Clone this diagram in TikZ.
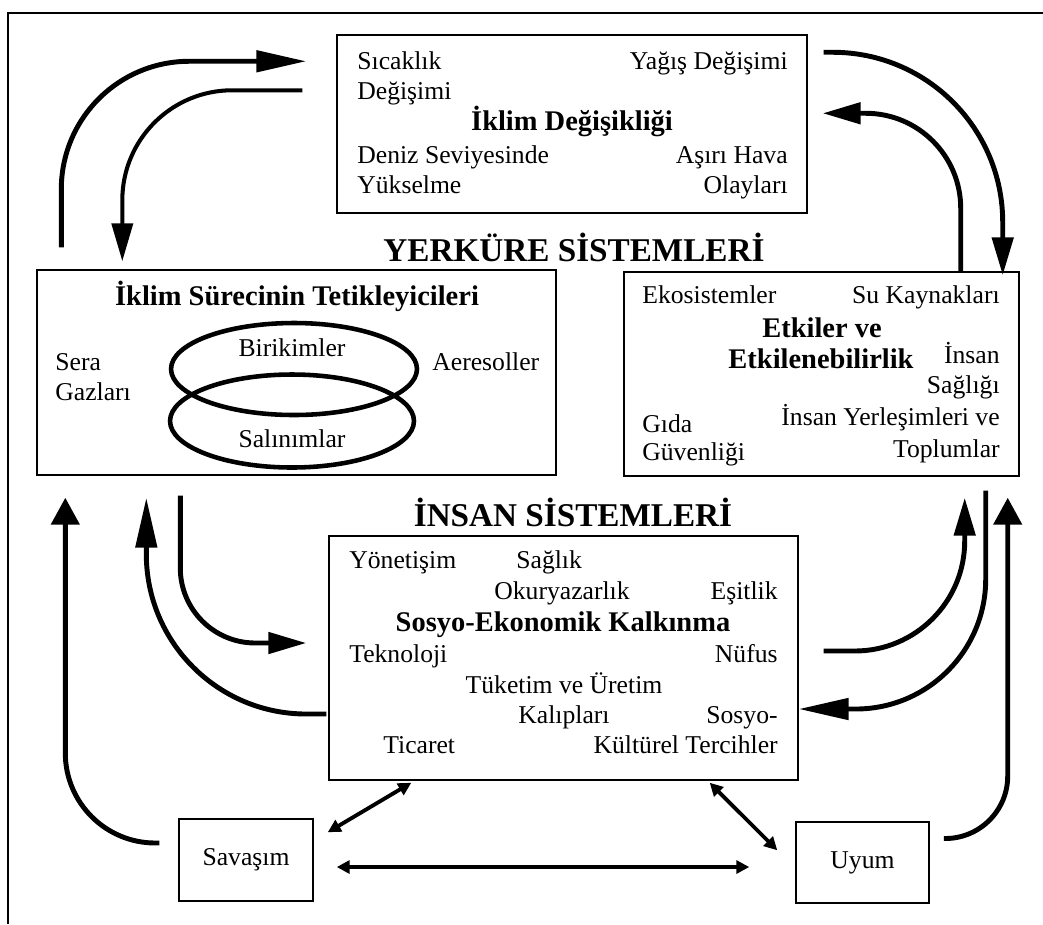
\documentclass[tikz,border=0pt]{standalone}
\usepackage{fontspec}
\setmainfont{Liberation Serif}
\usetikzlibrary{arrows.meta,calc}
\definecolor{ink}{HTML}{000000}
\tikzset{
  every node/.style={font=\fontsize{14.6}{17.5}\selectfont, text=ink, inner sep=0pt},
  panel/.style={draw=ink, line width=0.85pt},
  heading/.style={font=\fontsize{16.2}{19}\selectfont\bfseries, anchor=base},
  systitle/.style={font=\fontsize{18.9}{22}\selectfont\bfseries, anchor=base},
  item/.style={anchor=base west},
  itemr/.style={anchor=base east},
  itemc/.style={anchor=base},
  ring/.style={draw=ink, line width=2.6pt},
  flow/.style={draw=ink, line width=2.8pt},
  longarrow/.style={flow, -{Triangle[length=1.0cm,width=0.42cm]}},
  midarrow/.style={flow, -{Triangle[length=0.76cm,width=0.42cm]}},
  stubarrow/.style={flow, -{Triangle[length=0.54cm,width=0.56cm]}},
  twoway/.style={draw=ink, line width=2.2pt, {Triangle[length=0.26cm,width=0.26cm]}-{Triangle[length=0.26cm,width=0.26cm]}},
}

\begin{document}
\begin{tikzpicture}[x=0.02cm, y=-0.02cm]
\useasboundingbox (0,0) rectangle (1043,924);
\draw[ink, line width=1.1pt] (8,924) -- (8,13) -- (1043,13);

% kutular
\node[panel, minimum width=9.4cm, minimum height=3.56cm] (klima) at (572,124) {};
\node[panel, minimum width=10.38cm, minimum height=4.1cm] (tetik) at (296.5,372.5) {};
\node[panel, minimum width=7.9cm, minimum height=4.08cm] (etki) at (821.5,374) {};
\node[panel, minimum width=9.38cm, minimum height=4.88cm] (sosyo) at (563.5,658) {};
\node[panel, minimum width=2.68cm, minimum height=1.64cm] (savas) at (246,860) {Savaşım};
\node[panel, minimum width=2.66cm, minimum height=1.62cm] (uyum) at (862.5,862.5) {Uyum};

\node[systitle] (yerkure) at (574,261) {YERKÜRE SİSTEMLERİ};
\node[systitle] (insan) at (573,526) {İNSAN SİSTEMLERİ};

% iklim degisikligi
\node[item] (sicak) at (357,69) {Sıcaklık};
\node[item] (sicak2) at (357,99) {Değişimi};
\node[itemr] (yagis) at (788,69) {Yağış Değişimi};
\node[heading] (klimabaslik) at (572,130) {İklim Değişikliği};
\node[item] (deniz) at (357,163) {Deniz Seviyesinde};
\node[item] (deniz2) at (357,193) {Yükselme};
\node[itemr] (asiri) at (788,163) {Aşırı Hava};
\node[itemr] (asiri2) at (788,193) {Olayları};

% tetikleyiciler
\node[heading] (tetikbaslik) at (297,305) {İklim Sürecinin Tetikleyicileri};
\node[item] (sera) at (55,370) {Sera};
\node[item] (sera2) at (55,400) {Gazları};
\node[item] (aero) at (432,370) {Aeresoller};
\draw[ring] (294,369) ellipse [x radius=2.46cm, y radius=0.92cm];
\draw[ring] (292,421) ellipse [x radius=2.44cm, y radius=0.93cm];
\node[itemc] (birikim) at (292,356) {Birikimler};
\node[itemc] (salinim) at (292,447) {Salınımlar};

% etkiler
\node[item] (eko) at (642,303) {Ekosistemler};
\node[itemr] (su) at (1000,303) {Su Kaynakları};
\node[heading] (etkibaslik) at (822,337) {Etkiler ve};
\node[heading] (etkibaslik2) at (821,368) {Etkilenebilirlik};
\node[itemr] (saglik) at (1000,363) {İnsan};
\node[itemr] (saglik2) at (1000,393) {Sağlığı};
\node[itemr] (yerlesim) at (1000,425) {İnsan Yerleşimleri ve};
\node[itemr] (yerlesim2) at (1000,457) {Toplumlar};
\node[item] (gida) at (642,432) {Gıda};
\node[item] (gida2) at (642,460) {Güvenliği};

% sosyo-ekonomik
\node[item] (yonetisim) at (349,568) {Yönetişim};
\node[item] (saglik3) at (516,568) {Sağlık};
\node[item] (okur) at (494,599) {Okuryazarlık};
\node[itemr] (esitlik) at (778,599) {Eşitlik};
\node[heading] (sosyobaslik) at (563,631) {Sosyo-Ekonomik Kalkınma};
\node[item] (tekno) at (349,662) {Teknoloji};
\node[itemr] (nufus) at (778,662) {Nüfus};
\node[itemc] (tuketim) at (564,693) {Tüketim ve Üretim};
\node[itemc] (tuketim2) at (564,723) {Kalıpları};
\node[itemr] (kultur) at (778,723) {Sosyo-};
\node[item] (ticaret) at (383,753) {Ticaret};
\node[itemr] (kultur2) at (778,753) {Kültürel Tercihler};

% ok uclari
\coordinate (a1s) at ($(tetik.north west)+(25,-22)$);
\coordinate (a1e) at ($(klima.north west)+(-30,27)$);
\coordinate (a2s) at ($(klima.north west)+(-34,56)$);
\coordinate (a2e) at ($(tetik.north west)+(86,-8)$);
\coordinate (a3s) at ($(klima.north east)+(16,18)$);
\coordinate (a3e) at ($(etki.north east)+(-17,4)$);
\coordinate (a4s) at ($(etki.north east)+(-59,0)$);
\coordinate (a4e) at ($(klima.north east)+(15,79)$);
\coordinate (a5s) at ($(savas.west)+(-19,-17)$);
\coordinate (a5e) at ($(tetik.south west)+(29,22)$);
\coordinate (a6s) at ($(sosyo.west)+(-2,56)$);
\coordinate (a6e) at ($(tetik.south west)+(110,22)$);
\coordinate (a7s) at ($(tetik.south west)+(144,20)$);
\coordinate (a7e) at ($(sosyo.west)+(-22,-15)$);
\coordinate (a8s) at ($(sosyo.east)+(25,-7)$);
\coordinate (a8e) at ($(etki.south east)+(-55,21)$);
\coordinate (a9s) at ($(etki.south east)+(-34,14)$);
\coordinate (a9e) at ($(sosyo.east)+(0,51)$);
\coordinate (a10s) at ($(uyum.east)+(14,-24)$);
\coordinate (a10e) at ($(etki.south east)+(-12,21)$);
\coordinate (t1a) at ($(sosyo.south west)+(83,2)$);
\coordinate (t1b) at ($(savas.north east)+(14,14)$);
\coordinate (t2a) at ($(sosyo.south east)+(-89,2)$);
\coordinate (t2b) at ($(uyum.north west)+(-18,29)$);
\coordinate (t3a) at ($(savas.east)+(23,7)$);
\coordinate (t3b) at ($(uyum.west)+(-46,4.5)$);

\draw[longarrow, rounded corners=2.56cm] (a1s) |- (a1e);
\draw[midarrow, line width=2.3pt, rounded corners=2.2cm] (a2s) -| (a2e);
\draw[midarrow, rounded corners=3.4cm] (a3s) -| (a3e);
\draw[midarrow, rounded corners=1.9cm] (a4s) |- (a4e);
\draw[stubarrow, rounded corners=1.8cm] (a5s) -| (a5e);
\draw[longarrow, rounded corners=3.2cm] (a6s) -| (a6e);
\draw[midarrow, rounded corners=1.5cm] (a7s) |- (a7e);
\draw[midarrow, rounded corners=2.2cm] (a8s) -| (a8e);
\draw[longarrow, rounded corners=2.6cm] (a9s) |- (a9e);
\draw[stubarrow, rounded corners=1.25cm] (a10s) -| (a10e);
\draw[twoway] (t1a) -- (t1b);
\draw[twoway] (t2a) -- (t2b);
\draw[twoway] (t3a) -- (t3b);
\end{tikzpicture}
\end{document}
